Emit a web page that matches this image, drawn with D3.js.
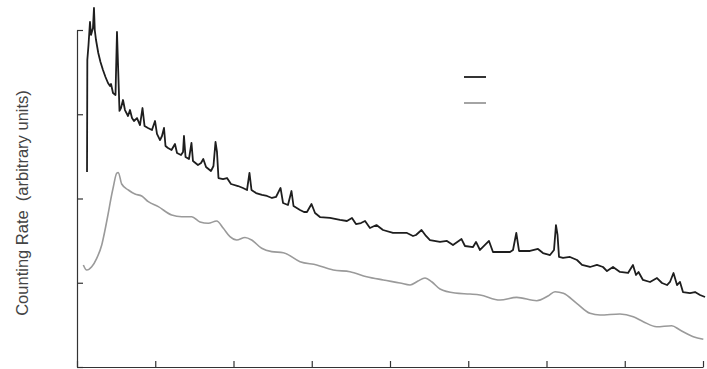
<!DOCTYPE html>
<html>
<head>
<meta charset="utf-8">
<script src="https://cdn.jsdelivr.net/npm/d3@7"></script>
<style>
  html, body { margin: 0; padding: 0; background: #fff; }
  svg { display: block; }
</style>
</head>
<body>
<svg id="chart" width="707" height="369"></svg>
<script>
// ---- data ----
const xTicks = [0, 10, 20, 30, 40, 50, 60, 70, 80];
const yTicks = [0, 1, 2, 3, 4];
const yLabel = "Counting Rate  (arbitrary units)";

// sample 1 (black): [angle, counting rate]
const sampleA = [
  [1.28,2.314],[1.32,3.644],[1.47,3.822],[1.66,4.095],[1.79,3.941],[2.04,4.024],[2.17,4.261],[2.27,4.000],
  [2.43,3.881],[2.72,3.727],[3.00,3.620],[3.32,3.525],[3.64,3.442],[3.96,3.371],[4.22,3.335],[4.35,3.359],
  [4.60,3.252],[4.92,3.228],[5.11,3.976],[5.43,3.039],[5.62,3.074],[5.88,3.169],[6.13,3.050],[6.52,2.979],
  [6.77,3.050],[7.03,2.955],[7.28,2.920],[7.67,2.955],[8.05,2.872],[8.37,3.074],[8.63,2.861],[9.07,2.837],
  [9.58,2.813],[9.97,2.920],[10.22,2.766],[10.61,2.694],[10.86,2.742],[11.12,2.837],[11.31,2.623],[11.63,2.599],
  [12.08,2.576],[12.52,2.647],[12.78,2.540],[13.29,2.516],[13.55,2.552],[13.67,2.742],[13.87,2.493],[14.31,2.469],
  [14.63,2.659],[14.82,2.445],[15.46,2.398],[15.85,2.421],[16.14,2.469],[16.49,2.374],[17.12,2.326],[17.44,2.386],
  [17.70,2.671],[17.89,2.552],[18.08,2.243],[18.66,2.231],[19.17,2.243],[19.68,2.172],[20.58,2.148],[21.21,2.125],
  [21.73,2.101],[22.04,2.303],[22.30,2.101],[22.88,2.065],[23.64,2.042],[24.28,2.030],[24.92,2.006],[25.43,2.018],
  [26.01,2.125],[26.33,1.947],[26.96,1.923],[27.41,2.089],[27.67,1.911],[28.50,1.864],[29.01,1.840],[29.39,1.840],
  [29.97,1.935],[30.42,1.828],[31.05,1.780],[32.33,1.769],[33.61,1.745],[34.50,1.733],[35.14,1.769],[35.65,1.697],
  [36.29,1.709],[36.81,1.733],[37.44,1.650],[38.27,1.685],[39.11,1.626],[40.38,1.591],[41.28,1.591],[42.17,1.591],
  [42.94,1.555],[43.32,1.567],[44.03,1.626],[44.60,1.555],[45.11,1.507],[46.39,1.484],[47.28,1.496],[48.05,1.448],
  [49.14,1.519],[49.58,1.436],[50.61,1.424],[50.99,1.484],[51.50,1.389],[52.65,1.496],[53.16,1.365],[54.31,1.365],
  [55.34,1.365],[55.72,1.389],[56.14,1.591],[56.49,1.377],[57.89,1.377],[58.91,1.401],[59.55,1.353],[60.45,1.329],
  [60.96,1.389],[61.21,1.685],[61.41,1.567],[61.60,1.306],[62.11,1.294],[63.00,1.306],[63.90,1.270],[64.54,1.211],
  [65.56,1.187],[66.45,1.211],[67.22,1.187],[67.73,1.139],[68.50,1.187],[69.39,1.128],[70.42,1.116],[71.05,1.211],
  [71.44,1.092],[71.76,1.128],[72.33,1.033],[73.23,1.009],[74.12,1.056],[74.76,0.997],[75.40,0.973],[75.78,1.009],
  [76.23,1.116],[76.68,0.973],[77.06,1.009],[77.44,0.890],[78.34,0.878],[78.98,0.890],[79.62,0.855],[80.26,0.831]
];

// sample 2 (grey): [angle, counting rate]
const sampleB = [
  [0.81,1.211],[1.24,1.151],[1.88,1.190],[2.52,1.290],[3.16,1.448],[3.58,1.626],[4.00,1.828],[4.35,2.006],
  [4.64,2.136],[5.07,2.299],[5.28,2.309],[5.71,2.172],[6.56,2.101],[7.41,2.053],[8.27,2.030],[9.11,1.962],
  [10.39,1.903],[12.10,1.804],[13.38,1.784],[14.66,1.784],[15.72,1.721],[16.78,1.706],[17.85,1.733],[18.70,1.646],
  [19.55,1.547],[20.41,1.507],[21.47,1.537],[22.33,1.507],[23.60,1.409],[24.88,1.369],[26.36,1.357],[28.50,1.250],
  [30.63,1.211],[32.75,1.151],[34.89,1.131],[37.02,1.072],[39.14,1.033],[41.28,0.997],[42.56,0.973],[43.58,1.021],
  [44.47,1.056],[45.37,1.009],[46.39,0.926],[48.31,0.878],[50.22,0.866],[51.50,0.855],[54.06,0.795],[56.19,0.827],
  [58.75,0.787],[60.19,0.843],[61.09,0.894],[62.15,0.875],[63.86,0.756],[65.56,0.637],[66.84,0.617],[69.39,0.629],
  [71.09,0.597],[72.37,0.538],[74.08,0.478],[76.00,0.490],[77.06,0.439],[78.76,0.360],[80.04,0.329]
];

// ---- drawing ----
const W = 707, H = 369;
const margin = { top: 30, right: 4, bottom: 2, left: 77 };
const svg = d3.select("#chart");

const x = d3.scaleLinear().domain([0, 80]).range([margin.left, W - margin.right]);
const y = d3.scaleLinear().domain([0, 4]).range([H - margin.bottom, margin.top]);

const axisColor = "#333";

const gx = svg.append("g")
  .attr("transform", `translate(0,${H - margin.bottom})`)
  .call(d3.axisBottom(x).tickValues(xTicks).tickSizeInner(-6).tickSizeOuter(0).tickFormat(""));
const gy = svg.append("g")
  .attr("transform", `translate(${margin.left},0)`)
  .call(d3.axisLeft(y).tickValues(yTicks).tickSizeInner(-6).tickSizeOuter(0).tickFormat(""));
[gx, gy].forEach(g => {
  g.selectAll("path.domain").attr("stroke", axisColor).attr("stroke-width", 1.2);
  g.selectAll(".tick line").attr("stroke", axisColor).attr("stroke-width", 1.2);
});

const line = d3.line().x(d => x(d[0])).y(d => y(d[1]));
const smoothLine = d3.line().curve(d3.curveMonotoneX).x(d => x(d[0])).y(d => y(d[1]));

svg.append("path").datum(sampleB)
  .attr("d", smoothLine).attr("fill", "none")
  .attr("stroke", "#9a9a9a").attr("stroke-width", 1.6).attr("stroke-linejoin", "round");

svg.append("path").datum(sampleA)
  .attr("d", line).attr("fill", "none")
  .attr("stroke", "#1e1e1e").attr("stroke-width", 1.8).attr("stroke-linejoin", "round");

// legend (line keys only)
const legend = svg.append("g");
legend.append("line").attr("x1", 464).attr("x2", 486).attr("y1", 77).attr("y2", 77)
  .attr("stroke", "#1e1e1e").attr("stroke-width", 1.8);
legend.append("line").attr("x1", 464).attr("x2", 486).attr("y1", 103).attr("y2", 103)
  .attr("stroke", "#9a9a9a").attr("stroke-width", 1.8);

// y label
svg.append("text")
  .attr("transform", "translate(28,203) rotate(-90)")
  .attr("text-anchor", "middle")
  .style("white-space", "pre")
  .attr("font-family", "Liberation Sans, Arial, sans-serif")
  .attr("font-size", 16.5)
  .attr("fill", "#444")
  .text(yLabel);
</script>
</body>
</html>
